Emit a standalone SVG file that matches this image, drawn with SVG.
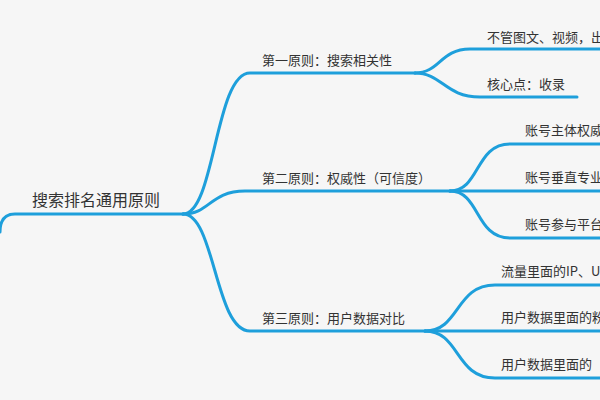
<svg xmlns="http://www.w3.org/2000/svg" width="600" height="400" viewBox="0 0 600 400">
<style>
.bg{fill:#f6f6f6}
.ln{fill:none;stroke:#1e9fdb;stroke-width:3;stroke-linecap:round}
.t{font-family:"Noto Sans CJK SC","Noto Sans",sans-serif;fill:#333;font-size:13px}
.root{font-size:16px}
</style>
<rect class="bg" x="0" y="0" width="600" height="400"/>
<g id="connectors">
<path class="ln" d="M0,232 C0,220 5,214 15,214 L183,214"/>
<path class="ln" d="M183,214 C215,214 215,73 250,73 L415,73"/>
<path class="ln" d="M183,214 C210,214 210,191 245,191 L450,191"/>
<path class="ln" d="M183,214 C215,214 215,331 250,331 L425,331"/>
<path class="ln" d="M415,73 C440,73 440,49 470,49 L600,49"/>
<path class="ln" d="M415,73 C442,73 445,97 480,97 L577,97"/>
<path class="ln" d="M450,191 C480,191 475,144 510,144 L600,144"/>
<path class="ln" d="M450,191 L600,191"/>
<path class="ln" d="M450,191 C480,191 475,238 510,238 L600,238"/>
<path class="ln" d="M425,331 C460,331 455,285 495,285 L600,285"/>
<path class="ln" d="M425,331 L600,331"/>
<path class="ln" d="M425,331 C460,331 455,378 495,378 L600,378"/>
</g>
<g id="root"><text class="t root" x="32" y="206">搜索排名通用原则</text></g>
<g id="p1"><text class="t" x="262" y="65">第一原则：搜索相关性</text></g>
<g id="p2"><text class="t" x="262" y="183">第二原则：权威性（可信度）</text></g>
<g id="p3"><text class="t" x="262" y="323">第三原则：用户数据对比</text></g>
<g id="c11"><text class="t" x="487" y="42">不管图文、视频，出</text></g>
<g id="c12"><text class="t" x="487" y="89">核心点：收录</text></g>
<g id="c21"><text class="t" x="525" y="135">账号主体权威</text></g>
<g id="c22"><text class="t" x="525" y="182">账号垂直专业</text></g>
<g id="c23"><text class="t" x="525" y="229">账号参与平台</text></g>
<g id="c31"><text class="t" x="501" y="276">流量里面的IP、U</text></g>
<g id="c32"><text class="t" x="501" y="322">用户数据里面的粉</text></g>
<g id="c33"><text class="t" x="501" y="369">用户数据里面的</text></g>
</svg>
